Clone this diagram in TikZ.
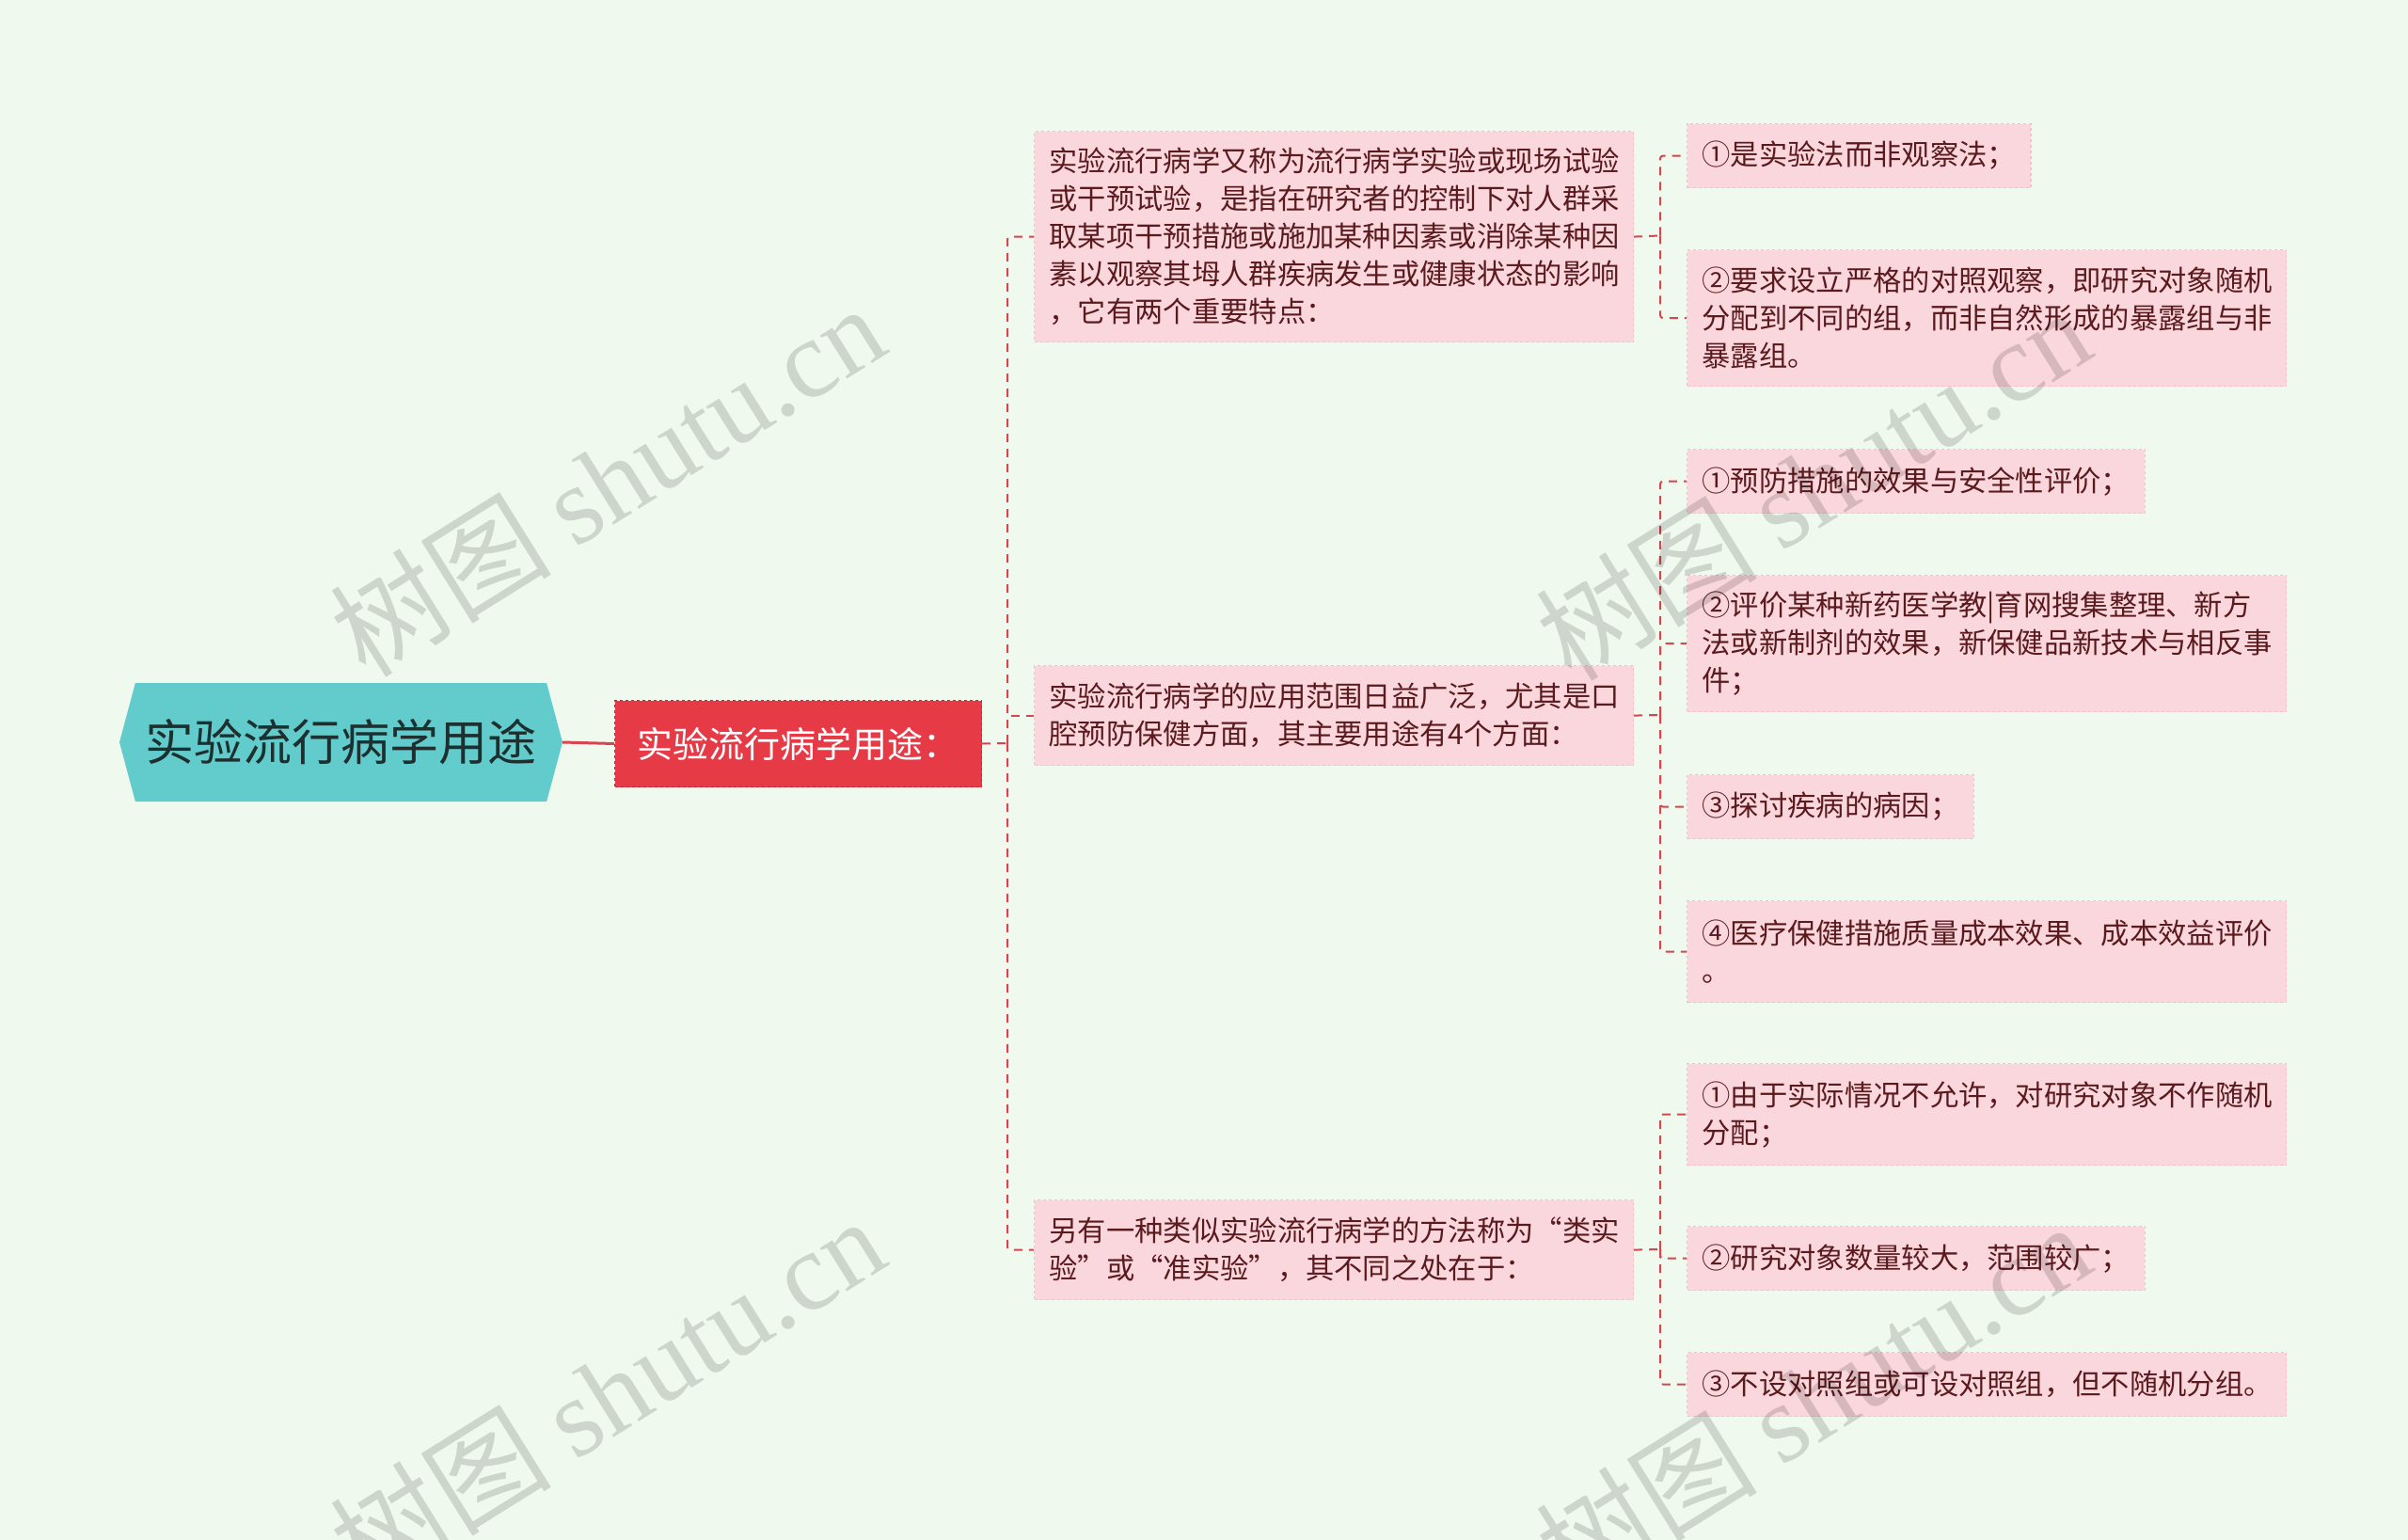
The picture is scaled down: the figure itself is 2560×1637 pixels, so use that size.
\documentclass[tikz,border=0pt]{standalone}
\usepackage{fontspec}
\setmainfont{Noto Sans CJK SC}
\newfontfamily\wmlatin{Liberation Serif}
\usetikzlibrary{shapes.symbols}
\definecolor{bgc}{HTML}{F0F9EE}
\definecolor{rootc}{HTML}{62CBCB}
\definecolor{roottext}{HTML}{1E2F2F}
\definecolor{mainc}{HTML}{E63A47}
\definecolor{pinkc}{HTML}{FAD7DC}
\definecolor{pinkedge}{HTML}{F2C2CA}
\definecolor{textc}{HTML}{5B1A1E}
\definecolor{linec}{HTML}{D64550}
\tikzset{
  box/.style={anchor=north west, fill=pinkc, draw=pinkedge, dashed, line width=1.2pt,
    text=textc, font=\fontsize{30.3}{40}\selectfont, align=left,
    inner xsep=16pt, inner ysep=0pt},
  widebox/.style={box, text width=605pt},
  conn/.style={draw=linec, line width=2pt, dash pattern=on 9pt off 7pt, rounded corners=3pt},
  wm/.style={text=black, opacity=0.14, rotate=32, font=\fontsize{118}{118}\selectfont}
}
\begin{document}
\begin{tikzpicture}[x=1pt,y=-1pt]
\path[fill=bgc] (0,0) rectangle (2560,1637);
\useasboundingbox (0,0) rectangle (2560,1637);

% root
\node[signal, signal to=west and east, signal pointer angle=150, fill=rootc,
  minimum width=471pt, minimum height=126pt, inner sep=0pt,
  text=roottext, font=\fontsize{52}{60}\selectfont] (root) at (362.5,789) {实验流行病学用途};

% main
\node[anchor=north west, fill=mainc, draw=mainc!80!black, dashed, line width=1pt,
  minimum width=390pt, minimum height=92pt, inner sep=0pt,
  text=white, font=\fontsize{38}{42}\selectfont] (main) at (653,744) {实验流行病学用途：};

% level 2
\node[widebox, minimum height=224pt] (A) at (1099,139) {实验流行病学又称为流行病学实验或现场试验\\或干预试验，是指在研究者的控制下对人群采\\取某项干预措施或施加某种因素或消除某种因\\素以观察其坶人群疾病发生或健康状态的影响\\，它有两个重要特点：};
\node[widebox, minimum height=106pt] (B) at (1099,707) {实验流行病学的应用范围日益广泛，尤其是口\\腔预防保健方面，其主要用途有4个方面：};
\node[widebox, minimum height=106pt] (C) at (1099,1275) {另有一种类似实验流行病学的方法称为“类实\\验”或“准实验”，其不同之处在于：};

% level 3
\node[box, minimum height=68pt] (A1) at (1793,131) {①是实验法而非观察法；};
\node[widebox, minimum height=145pt] (A2) at (1793,265) {②要求设立严格的对照观察，即研究对象随机\\分配到不同的组，而非自然形成的暴露组与非\\暴露组。};
\node[box, minimum height=68pt] (B1) at (1793,477) {①预防措施的效果与安全性评价；};
\node[widebox, minimum height=145pt] (B2) at (1793,611) {②评价某种新药医学教|育网搜集整理、新方\\法或新制剂的效果，新保健品新技术与相反事\\件；};
\node[box, minimum height=68pt] (B3) at (1793,823) {③探讨疾病的病因；};
\node[widebox, minimum height=108pt] (B4) at (1793,957) {④医疗保健措施质量成本效果、成本效益评价\\。};
\node[widebox, minimum height=108pt] (C1) at (1793,1130) {①由于实际情况不允许，对研究对象不作随机\\分配；};
\node[box, minimum height=68pt] (C2) at (1793,1303) {②研究对象数量较大，范围较广；};
\node[widebox, minimum height=68pt] (C3) at (1793,1437) {③不设对照组或可设对照组，但不随机分组。};

% connectors
\draw[draw=linec, line width=3pt] (root.east) -- (main.west);
\coordinate (j0) at (1071,790);
\draw[conn] (main.east) -- (j0);
\draw[conn] (j0) |- (A.west);
\draw[conn] (j0) |- (B.west);
\draw[conn] (j0) |- (C.west);

\coordinate (jA) at (1765,250.5);
\draw[conn] (A.east) -- (jA);
\draw[conn] (jA) |- (A1.west);
\draw[conn] (jA) |- (A2.west);

\coordinate (jB) at (1765,760);
\draw[conn] (B.east) -- (jB);
\draw[conn] (jB) |- (B1.west);
\draw[conn] (jB) |- (B2.west);
\draw[conn] (jB) |- (B3.west);
\draw[conn] (jB) |- (B4.west);

\coordinate (jC) at (1765,1328);
\draw[conn] (C.east) -- (jC);
\draw[conn] (jC) |- (C1.west);
\draw[conn] (jC) |- (C2.west);
\draw[conn] (jC) |- (C3.west);

% watermarks
\node[wm] (w1) at (645,510) {树图 {\wmlatin shutu.cn}};
\node[wm] (w2) at (645,1480) {树图 {\wmlatin shutu.cn}};
\node[wm] (w3) at (1927,514) {树图 {\wmlatin shutu.cn}};
\node[wm] (w4) at (1927,1486) {树图 {\wmlatin shutu.cn}};
\end{tikzpicture}
\end{document}
